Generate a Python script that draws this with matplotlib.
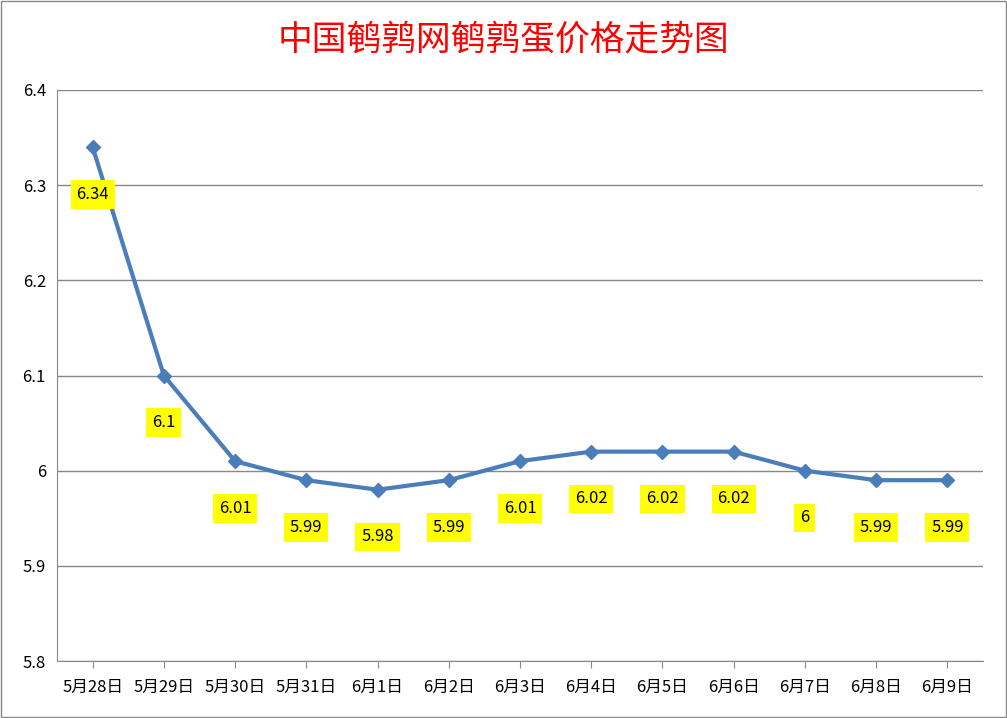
import matplotlib
matplotlib.use("Agg")
import matplotlib.pyplot as plt
from matplotlib.patches import Rectangle

plt.rcParams['font.family'] = ['Noto Sans CJK SC', 'DejaVu Sans']

dates = ["5月28日","5月29日","5月30日","5月31日","6月1日","6月2日","6月3日","6月4日","6月5日","6月6日","6月7日","6月8日","6月9日"]
prices = [6.34, 6.1, 6.01, 5.99, 5.98, 5.99, 6.01, 6.02, 6.02, 6.02, 6.0, 5.99, 5.99]
labels = ["6.34","6.1","6.01","5.99","5.98","5.99","6.01","6.02","6.02","6.02","6","5.99","5.99"]
title = "中国鹌鹑网鹌鹑蛋价格走势图"

fig = plt.figure(figsize=(10.07, 7.18), dpi=100)
fig.patches.append(Rectangle((0.001, 0.001), 0.998, 0.997, transform=fig.transFigure,
                             fill=False, edgecolor='#888888', lw=1))
ax = fig.add_axes([57/1007, 1-661/718, 926/1007, 571/718])
x = list(range(len(dates)))
ax.plot(x, prices, color='#4a7ebb', lw=3, marker='D', ms=7, zorder=3)
for xi, p, l in zip(x, prices, labels):
    ax.annotate(l, (xi, p), xytext=(0, -34), textcoords='offset points', ha='center', va='center',
                fontsize=12, bbox=dict(boxstyle='square,pad=0.35', fc='#ffff00', ec='none'), zorder=4)
ax.set_xlim(-0.5, 12.5)
ax.set_ylim(5.8, 6.4)
ax.set_yticks([5.8, 5.9, 6.0, 6.1, 6.2, 6.3, 6.4])
ax.set_yticklabels(["5.8","5.9","6","6.1","6.2","6.3","6.4"])
ax.set_xticks(x)
ax.set_xticklabels(dates)
ax.tick_params(labelsize=12, length=0, pad=8)
ax.tick_params(axis='x', length=5, direction='out', color='#888888')
ax.grid(axis='y', color='#888888', lw=1)
for s in ['top', 'right']:
    ax.spines[s].set_visible(False)
ax.spines['left'].set_color('#888888')
ax.spines['bottom'].set_color('#888888')
fig.text(0.5, 1-40/718, title, ha='center', va='center', color='red', fontsize=25)
fig.savefig("out.png", dpi=100)
